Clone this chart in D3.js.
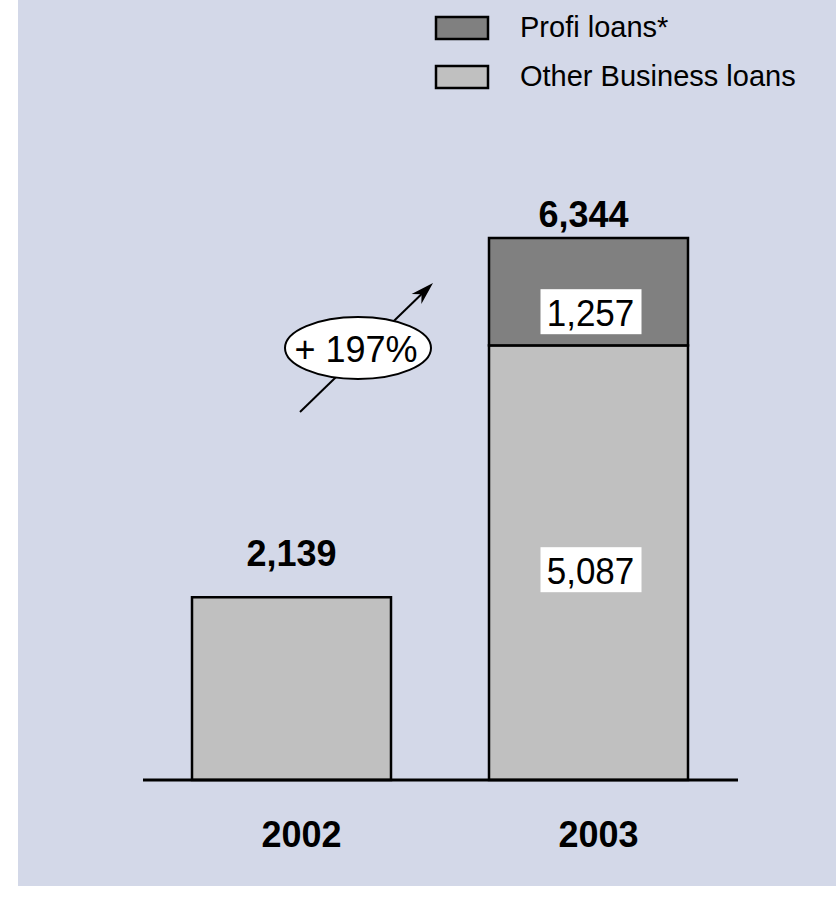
<!DOCTYPE html>
<html>
<head>
<meta charset="utf-8">
<script src="https://cdn.jsdelivr.net/npm/d3@7/dist/d3.min.js"></script>
<style>
  html, body { margin: 0; padding: 0; background: #ffffff; }
  svg { display: block; font-family: "Liberation Sans", Arial, sans-serif; }
</style>
</head>
<body>
<script>
// Business loans by year (stacked)
const years = ["2002", "2003"];
const otherLoans = [2139, 5087];
const profiLoans = [0, 1257];
const totals = [2139, 6344];
const seriesNames = ["Profi loans*", "Other Business loans"];
const growthLabel = "+ 197%";

const W = 836, H = 913;
const svg = d3.select("body").append("svg").attr("width", W).attr("height", H);

// panel background
svg.append("rect").attr("x", 18).attr("y", 0).attr("width", W - 18).attr("height", 886)
  .attr("fill", "#d3d8e8");

const x = d3.scaleBand().domain(years).range([143, 737]).paddingInner(0.33).paddingOuter(0.165);
const y = d3.scaleLinear().domain([0, d3.max(totals)]).range([780, 238]);

const colorOther = "#c0c0c0", colorProfi = "#808080";

const rows = years.map((yr, i) => ({ year: yr, other: otherLoans[i], profi: profiLoans[i], total: totals[i] }));
const stack = d3.stack().keys(["other", "profi"])(rows);
const fills = { other: colorOther, profi: colorProfi };

const g = svg.append("g");
stack.forEach(layer => {
  g.selectAll(null).data(layer.filter(d => d[1] > d[0])).enter().append("rect")
    .attr("x", d => x(d.data.year))
    .attr("width", x.bandwidth())
    .attr("y", d => y(d[1]))
    .attr("height", d => y(d[0]) - y(d[1]))
    .attr("fill", fills[layer.key])
    .attr("stroke", "#000").attr("stroke-width", 2.5);
});

// baseline
svg.append("line").attr("x1", x.range()[0]).attr("x2", x.range()[1] + 1)
  .attr("y1", y(0)).attr("y2", y(0)).attr("stroke", "#000").attr("stroke-width", 3);

// totals above bars (the single-segment bar carries its label higher)
svg.selectAll(".tot").data(rows).enter().append("text")
  .attr("x", d => x(d.year) + x.bandwidth() / 2 - (d.profi > 0 ? 5 : 0))
  .attr("y", d => y(d.total) - (d.profi > 0 ? 11 : 31))
  .attr("text-anchor", "middle").attr("font-size", 36).attr("font-weight", "bold")
  .text(d => d3.format(",")(d.total));

// segment labels inside the stacked bar, on white boxes
const segLabels = [];
stack.forEach(layer => layer.forEach(d => {
  if (d.data.profi > 0) segLabels.push({ key: layer.key, year: d.data.year, v: d[1] - d[0], mid: (y(d[0]) + y(d[1])) / 2 });
}));
const boxShift = { other: 7, profi: 20 };
const segG = svg.selectAll(".seg").data(segLabels).enter().append("g")
  .attr("transform", d => `translate(${x(d.year) + x.bandwidth() / 2 + 2},${d.mid + boxShift[d.key]})`);
segG.append("rect")
  .attr("x", -50).attr("y", -22.5)
  .attr("width", 101).attr("height", 45).attr("fill", "#ffffff");
segG.append("text")
  .attr("transform", "translate(0,14) scale(1,1.07)")
  .attr("text-anchor", "middle").attr("font-size", 35)
  .text(d => d3.format(",")(d.v));

// year labels
svg.selectAll(".yr").data(years).enter().append("text")
  .attr("x", d => x(d) + x.bandwidth() / 2 + 10)
  .attr("y", 847)
  .attr("text-anchor", "middle").attr("font-size", 36).attr("font-weight", "bold")
  .text(d => d);

// growth arrow with ellipse badge
const tail = [300, 412], tip = [433, 283];
const len = Math.hypot(tip[0] - tail[0], tip[1] - tail[1]);
const ux = (tip[0] - tail[0]) / len, uy = (tip[1] - tail[1]) / len;
const px = -uy, py = ux;
svg.append("line").attr("x1", tail[0]).attr("y1", tail[1])
  .attr("x2", tip[0] - 14 * ux).attr("y2", tip[1] - 14 * uy)
  .attr("stroke", "#000").attr("stroke-width", 2);
const head = d3.path();
head.moveTo(tip[0], tip[1]);
head.lineTo(tip[0] - 23 * ux + 7 * px, tip[1] - 23 * uy + 7 * py);
head.lineTo(tip[0] - 16 * ux, tip[1] - 16 * uy);
head.lineTo(tip[0] - 23 * ux - 7 * px, tip[1] - 23 * uy - 7 * py);
head.closePath();
svg.append("path").attr("d", head.toString()).attr("fill", "#000");

svg.append("ellipse").attr("cx", 358).attr("cy", 348).attr("rx", 73).attr("ry", 31)
  .attr("fill", "#ffffff").attr("stroke", "#000").attr("stroke-width", 2);
svg.append("text").attr("x", 356).attr("y", 362).attr("text-anchor", "middle")
  .attr("font-size", 36).text(growthLabel);

// legend
const legend = svg.append("g");
const legendFills = [colorProfi, colorOther];
seriesNames.forEach((name, i) => {
  const ly = 17 + i * 49;
  legend.append("rect").attr("x", 436).attr("y", ly).attr("width", 52).attr("height", 22)
    .attr("fill", legendFills[i]).attr("stroke", "#000").attr("stroke-width", 2.5);
  legend.append("text").attr("x", 520).attr("y", ly + 20).attr("font-size", 29).text(name);
});
</script>
</body>
</html>
